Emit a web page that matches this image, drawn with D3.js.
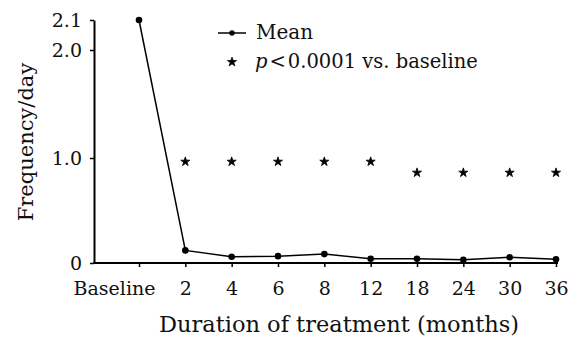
<!DOCTYPE html>
<html>
<head>
<meta charset="utf-8">
<script src="https://cdn.jsdelivr.net/npm/d3@7"></script>
<style>
  body { margin: 0; background: #fff; }
  svg { display: block; }
  text { font-family: "DejaVu Serif", "Liberation Serif", serif; fill: #111; }
</style>
</head>
<body>
<svg id="chart"></svg>
<script>
// data
var categories = ["Baseline", "2", "4", "6", "8", "12", "18", "24", "30", "36"];
var mean_values = [2.1, 0.12, 0.06, 0.065, 0.085, 0.04, 0.04, 0.03, 0.055, 0.035];
var sig_categories = ["2", "4", "6", "8", "12", "18", "24", "30", "36"];
var sig_levels = [0.965, 0.965, 0.965, 0.965, 0.965, 0.86, 0.86, 0.86, 0.86];
var y_ticks = [0, 1, 2, 2.1];
var y_tick_labels = ["0", "1.0", "2.0", "2.1"];

var W = 574, H = 338;
var chart = d3.select('#chart')
    .attr('width', W)
    .attr('height', H);

chart.append("rect")
    .attr("width", "100%")
    .attr("height", "100%")
    .attr("fill", "white");

// broken y axis: 0..2 is stretched, 2.0..2.1 compressed at the top
var ys = d3.scaleLinear()
    .domain([0, 1, 2, 2.1])
    .range([263, 158, 50, 20]);

var xs = d3.scalePoint()
    .domain(categories)
    .range([139, 556]);

var axis_left = 94;

// y axis
var gy = chart.append("g")
    .attr("transform", "translate(" + axis_left + ",0)")
    .call(d3.axisLeft(ys)
        .tickValues(y_ticks)
        .tickFormat((d, i) => y_tick_labels[i])
        .tickSize(4)
        .tickSizeOuter(0)
        .tickPadding(8));
gy.select(".domain").attr("stroke-width", 2);
gy.selectAll(".tick line").attr("stroke-width", 1.5);
gy.selectAll(".tick text")
    .style("font-size", "19px")
    .attr("dy", "0.36em");

// x axis
var gx = chart.append("g")
    .attr("transform", "translate(0," + ys(0) + ")")
    .call(d3.axisBottom(xs).tickSize(4).tickSizeOuter(0));
gx.select(".domain").remove();
gx.append("line")
    .attr("x1", axis_left - 1)
    .attr("x2", xs.range()[1] + 2)
    .attr("stroke", "black")
    .attr("stroke-width", 2);
gx.selectAll(".tick line").attr("stroke-width", 1.5);
gx.selectAll(".tick text")
    .style("font-size", "19px")
    .attr("y", 19)
    .attr("dx", d => d == "Baseline" ? -25 : 0);

// axis titles
chart.append("text")
    .attr("x", 339)
    .attr("y", 332)
    .style("text-anchor", "middle")
    .style("font-size", "22.5px")
    .text("Duration of treatment (months)");

chart.append("text")
    .attr("transform", "translate(33,142) rotate(-90)")
    .style("text-anchor", "middle")
    .style("font-size", "21px")
    .text("Frequency/day");

// mean line
chart.append("path")
    .datum(categories.map((c, i) => [c, mean_values[i]]))
    .attr("fill", "none")
    .attr("stroke", "black")
    .attr("stroke-width", 1.5)
    .attr("d", d3.line()
        .x(d => xs(d[0]))
        .y(d => ys(d[1])));

chart.append("g")
    .selectAll("circle")
    .data(categories.map((c, i) => [c, mean_values[i]]))
    .enter()
    .append("circle")
        .attr("cx", d => xs(d[0]))
        .attr("cy", d => ys(d[1]))
        .attr("r", 3.3)
        .attr("fill", "black");

// significance stars
var star = d3.symbol().type(d3.symbolStar).size(26);
chart.append("g")
    .selectAll("path")
    .data(sig_categories.map((c, i) => [c, sig_levels[i]]))
    .enter()
    .append("path")
        .attr("transform", d => "translate(" + xs(d[0]) + "," + ys(d[1]) + ")")
        .attr("d", star)
        .attr("fill", "black")
        .attr("stroke", "black")
        .attr("stroke-width", 0.8);

// legend
var legend = chart.append("g");
legend.append("line")
    .attr("x1", 218).attr("x2", 246)
    .attr("y1", 33).attr("y2", 33)
    .attr("stroke", "black")
    .attr("stroke-width", 1.5);
legend.append("circle")
    .attr("cx", 232).attr("cy", 33).attr("r", 2.7)
    .attr("fill", "black");
legend.append("text")
    .attr("x", 256).attr("y", 39)
    .style("font-size", "20px")
    .text("Mean");
legend.append("path")
    .attr("transform", "translate(232,62)")
    .attr("d", star)
    .attr("fill", "black")
    .attr("stroke", "black")
    .attr("stroke-width", 0.8);
var sig_label = legend.append("text")
    .attr("x", 255).attr("y", 68)
    .style("font-size", "19.5px");
sig_label.append("tspan").style("font-style", "italic").text("p");
sig_label.append("tspan").attr("dx", 2).text("<");
sig_label.append("tspan").attr("dx", 2).text("0.0001 vs. baseline");
</script>
</body>
</html>
